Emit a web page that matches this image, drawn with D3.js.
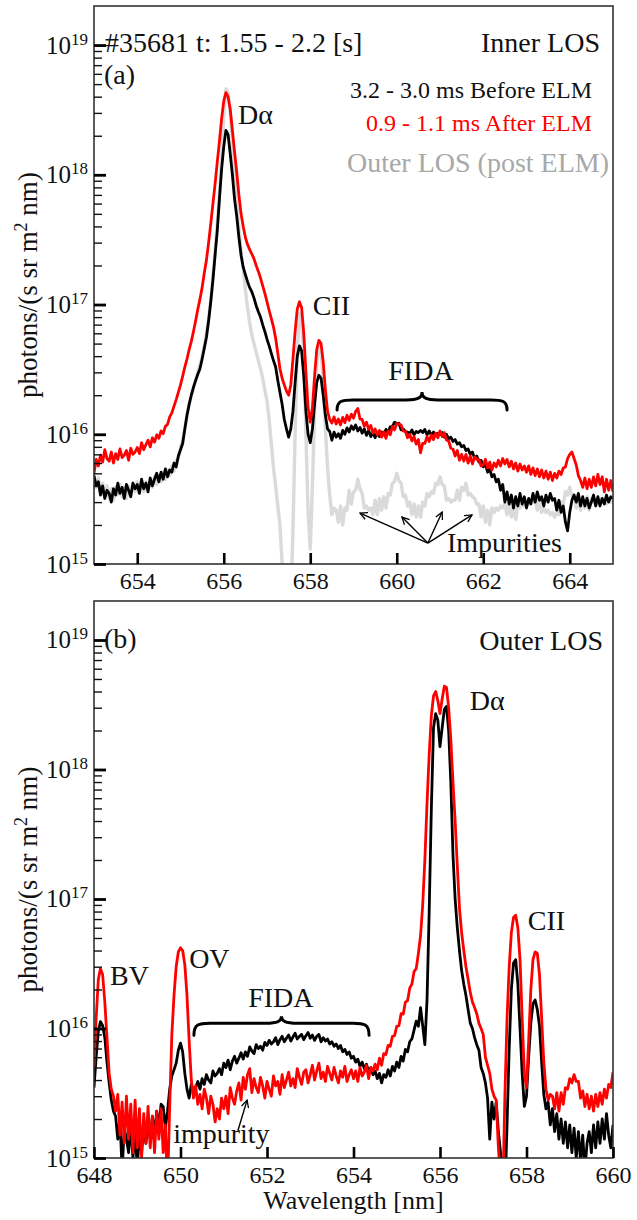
<!DOCTYPE html>
<html>
<head>
<meta charset="utf-8">
<script src="https://cdnjs.cloudflare.com/ajax/libs/d3/7.8.5/d3.min.js"></script>
<style>
body { margin: 0; background: #fff; }
svg text { font-family: "Liberation Serif", "Times New Roman", serif; }
</style>
</head>
<body>
<svg id="chart" width="637" height="1220"></svg>
<script>
// spectra are sampled every 0.05 nm, values in units of 1e15 photons/(s sr m^2 nm)
var stepNm = 0.05;
var startA = 653.0, startB = 648.0;

// panel (a) inner LOS, 653 - 665 nm
var blackA = [
    4.8, 4.0, 4.3, 3.4, 4.0, 3.2, 3.7, 3.5, 3.0, 3.8,
    3.4, 4.2, 3.5, 3.9, 3.2, 4.1, 3.7, 3.3, 4.2, 3.8,
    4.1, 3.5, 4.5, 3.8, 4.2, 3.6, 4.6, 4.0, 4.5, 5.0,
    4.3, 5.1, 4.5, 5.4, 4.7, 5.3, 5.1, 6.0, 5.6, 6.8,
    7.6, 8.5, 11, 14, 17, 20, 23, 26, 29, 32,
    38, 46, 56, 75, 105, 155, 240, 370, 650, 1100,
    1650, 2200, 2050, 1450, 1000, 650, 480, 330, 240, 194,
    170, 150, 135, 125, 112, 98, 88, 80, 70, 62,
    54, 48, 42, 37, 33, 26, 21, 17, 13, 11,
    9.5, 11, 15, 25, 40, 48, 44, 28, 15, 10,
    8.6, 11, 17, 25, 28.5, 27, 20, 14, 11, 10.5,
    9.0, 10.4, 9.5, 10.1, 9.3, 10.7, 10.0, 11.2, 10.4, 11.6,
    10.9, 11.8, 10.6, 11.3, 10.2, 11.0, 9.8, 10.7, 9.6, 10.3,
    9.4, 10.3, 9.6, 10.4, 9.9, 10.9, 10.4, 11.4, 11.5, 12.4,
    12.1, 12.2, 10.8, 11.0, 10.5, 10.4, 10.1, 10.8, 9.9, 10.5,
    10.3, 10.7, 10.3, 10.9, 9.9, 10.6, 9.8, 10.4, 9.8, 10.2,
    9.9, 10.3, 9.5, 10.0, 9.2, 9.5, 8.8, 9.1, 8.4, 8.6,
    8.0, 8.2, 7.5, 7.7, 7.0, 7.3, 6.5, 6.8, 6.1, 6.3,
    5.6, 5.9, 5.1, 5.4, 4.7, 4.9, 4.3, 4.5, 3.7, 4.1,
    3.0, 3.6, 2.9, 3.4, 2.7, 3.3, 2.8, 3.5, 2.9, 3.3,
    2.7, 3.2, 2.9, 3.5, 3.0, 3.6, 3.1, 3.3, 2.8, 3.4,
    3.0, 3.5, 3.1, 3.2, 2.6, 3.1, 2.5, 2.8, 2.1, 1.8,
    2.5, 3.1, 3.4, 3.0, 3.5, 2.8, 3.3, 2.8, 3.2, 2.7,
    3.0, 3.4, 2.8, 3.3, 2.8, 3.2, 2.9, 3.4, 3.0, 3.3,
    3.2
];
var redA = [
    5.0, 6.4, 5.7, 6.9, 6.1, 7.6, 6.5, 6.2, 7.3, 6.0,
    7.1, 6.4, 7.7, 6.6, 6.9, 7.5, 6.3, 7.8, 7.0, 7.3,
    7.9, 7.1, 8.6, 7.6, 8.3, 9.0, 8.0, 9.4, 8.7, 9.9,
    9.3, 10.6, 10.1, 11.5, 11.9, 13.6, 14.6, 16.5, 18.5, 21.0,
    24, 28, 33, 38, 45, 52, 62, 75, 92, 110,
    135, 175, 220, 300, 420, 600, 850, 1250, 1800, 2700,
    3700, 4300, 4000, 3200, 2200, 1500, 1050, 700, 500, 400,
    330, 290, 265, 245, 225, 200, 180, 160, 140, 122,
    105, 90, 78, 67, 55, 42, 32, 27, 24, 21.5,
    20, 24, 38, 62, 92, 105, 95, 60, 30, 16,
    12.4, 16, 28, 45, 53, 50, 36, 22, 15, 13,
    12.2, 13.6, 12.0, 13.1, 11.8, 13.5, 12.3, 14.0, 12.8, 14.3,
    13.3, 15.0, 15.8, 13.1, 13.0, 11.5, 12.4, 10.9, 11.7, 10.2,
    11.0, 9.9, 10.7, 9.5, 10.4, 9.3, 10.6, 9.9, 11.5, 10.8,
    12.1, 12.0, 11.8, 10.6, 10.5, 9.4, 10.0, 8.9, 9.6, 8.4,
    9.1, 7.2, 8.5, 8.5, 9.6, 8.8, 9.9, 9.1, 10.2, 9.4,
    10.6, 9.6, 10.3, 9.0, 8.9, 7.8, 7.7, 6.8, 7.5, 6.3,
    7.0, 6.2, 7.0, 6.0, 6.8, 5.9, 6.7, 6.4, 6.4, 5.7,
    5.8, 6.4, 5.5, 6.1, 5.3, 6.0, 5.6, 6.3, 5.7, 6.5,
    5.9, 6.4, 5.6, 6.2, 5.4, 6.0, 5.2, 5.9, 5.3, 5.7,
    5.1, 5.7, 4.9, 5.5, 4.8, 5.4, 4.7, 5.3, 4.6, 5.2,
    4.5, 5.1, 4.4, 5.0, 4.6, 5.2, 4.9, 5.5, 5.6, 6.5,
    7.0, 7.3, 6.5, 5.8, 4.8, 4.4, 3.9, 4.6, 3.8, 4.5,
    3.9, 4.7, 4.0, 4.9, 4.1, 4.7, 3.6, 4.5, 3.7, 4.4,
    3.6
];
var greyA = [
    4.5, 3.9, 4.6, 3.6, 4.2, 3.3, 4.0, 3.2, 3.8, 3.1,
    3.9, 3.4, 4.1, 3.3, 3.9, 3.2, 4.0, 3.5, 4.2, 3.6,
    4.3, 3.7, 4.4, 3.6, 4.3, 3.8, 4.5, 3.9, 4.7, 4.1,
    4.8, 4.3, 5.1, 4.5, 5.3, 4.8, 5.7, 5.2, 6.3, 6.5,
    7.8, 9.0, 11, 14, 17, 20, 23, 26, 30, 34,
    40, 48, 60, 78, 110, 165, 260, 420, 700, 1300,
    2800, 4600, 4300, 3000, 1800, 1000, 600, 400, 260, 190,
    130, 95, 72, 58, 50, 43, 37, 32, 27, 22,
    18, 13, 8.5, 5.5, 4.0, 2.8, 2.0, 1.0, 0.5, 0.9,
    0.3, 0.5, 1.8, 10, 45, 85, 78, 40, 10, 2.5,
    1.3, 4, 15, 35, 48, 44, 26, 11, 5.5, 3.4,
    2.4, 2.7, 2.6, 2.1, 2.8, 2.0, 2.7, 2.6, 3.7, 2.9,
    3.6, 3.7, 4.5, 3.8, 3.5, 2.7, 2.8, 2.6, 2.7, 2.4,
    3.1, 2.4, 3.2, 2.6, 3.3, 2.7, 3.5, 3.4, 4.2, 4.3,
    5.0, 4.4, 4.2, 3.3, 3.4, 2.8, 3.0, 2.4, 2.9, 2.3,
    2.8, 2.3, 3.0, 2.8, 3.5, 3.3, 3.6, 3.5, 4.2, 4.1,
    4.7, 4.1, 4.0, 3.1, 3.2, 3.0, 3.1, 3.1, 3.7, 3.1,
    3.9, 3.7, 4.2, 3.4, 3.5, 3.3, 3.2, 2.9, 2.9, 2.3,
    2.8, 2.1, 2.6, 2.0, 2.7, 2.5, 2.7, 2.6, 2.8, 2.7,
    2.9, 2.4, 3.0, 2.3, 2.8, 2.2, 2.9, 2.7, 2.9, 2.8,
    3.0, 2.9, 3.1, 3.0, 3.2, 2.6, 3.2, 2.5, 2.7, 2.5,
    2.6, 2.4, 2.5, 2.3, 2.5, 2.4, 3.0, 2.9, 3.6, 3.4,
    3.9, 3.3, 3.4, 2.7, 3.2, 2.6, 3.2, 2.7, 3.3, 2.6,
    3.2, 3.0, 3.1, 2.9, 3.2, 3.0, 3.2, 2.9, 3.1, 3.0,
    3.0
];

// panel (b) outer LOS, 648 - 660 nm
var blackB = [
    3.5, 6.0, 9.5, 11.3, 10.5, 8.5, 5.5, 3.8, 2.8, 2.3,
    2.1, 1.4, 2.0, 0.8, 1.7, 1.4, 1.1, 1.8, 1.0, 1.6,
    0.85, 1.5, 1.1, 1.8, 1.3, 1.9, 1.4, 2.1, 1.5, 2.3,
    1.7, 2.6, 2.5, 1.7, 2.3, 3.4, 4.3, 4.8, 5.4, 6.8,
    7.7, 6.6, 4.5, 3.4, 2.9, 3.7, 3.3, 3.5, 3.9, 3.4,
    4.1, 3.7, 4.4, 4.0, 3.8, 4.7, 4.3, 4.5, 4.9, 4.4,
    5.4, 5.0, 5.7, 4.8, 5.6, 6.1, 5.4, 5.9, 6.5, 5.8,
    6.6, 6.1, 7.2, 6.7, 6.4, 7.5, 7.0, 7.3, 6.8, 7.8,
    7.4, 8.1, 7.6, 7.9, 8.5, 7.5, 8.2, 8.7, 7.9, 8.4,
    8.9, 8.0, 8.6, 9.2, 8.3, 8.7, 9.0, 8.2, 8.8, 9.3,
    8.4, 8.9, 8.1, 8.7, 9.0, 7.9, 8.5, 8.0, 8.3, 7.6,
    7.9, 7.3, 7.6, 7.0, 7.4, 6.6, 6.9, 6.3, 6.6, 5.9,
    6.1, 5.5, 5.8, 5.1, 5.5, 4.9, 5.3, 4.6, 5.0, 4.4,
    4.7, 4.1, 4.5, 3.8, 4.4, 4.2, 4.8, 4.3, 5.1, 4.7,
    5.5, 5.0, 6.1, 5.6, 6.9, 6.6, 7.9, 8.3, 9.7, 11.4,
    10.4, 14.5, 10.5, 7.5, 16.6, 80, 500, 2100, 2700, 2400,
    1500, 2100, 2900, 3070, 2000, 800, 220, 100, 60, 40,
    28, 22, 18, 14, 11, 10, 8.5, 7.5, 6.8, 5.0,
    4.5, 3.8, 2.9, 1.4, 2.7, 2.0, 2.7, 1.6, 1.1, 0.7,
    0.5, 1.8, 7, 20, 32, 34, 22, 10, 4.5, 2.5,
    3.0, 6, 11, 15.5, 16.6, 14, 10.5, 5.5, 3.1, 2.4,
    2.7, 1.8, 2.4, 1.6, 2.2, 1.4, 2.0, 1.3, 1.9, 1.2,
    1.8, 1.1, 1.7, 1.0, 1.6, 0.95, 1.5, 0.8, 1.3, 1.6,
    1.1, 1.8, 1.2, 1.9, 1.3, 2.0, 1.4, 2.2, 1.5, 1.2,
    1.8
];
var redB = [
    5.0, 12, 24, 29, 26, 16, 8.5, 4.5, 3.4, 3.0,
    2.3, 3.1, 1.5, 2.7, 1.3, 3.0, 1.4, 2.6, 1.1, 2.8,
    1.2, 2.4, 1.0, 2.2, 1.3, 2.5, 1.2, 2.1, 1.1, 2.3,
    1.4, 2.4, 1.1, 1.8, 0.6, 2.5, 9, 18, 30, 39,
    42, 40, 31, 18, 8, 4, 2.9, 3.6, 2.6, 3.1,
    2.4, 3.4, 2.9, 2.2, 3.0, 2.6, 1.9, 2.4, 2.0, 2.9,
    2.4, 3.0, 2.2, 3.5, 2.9, 2.6, 3.3, 3.8, 2.8, 4.2,
    3.4, 4.4, 4.9, 3.2, 4.1, 3.5, 3.2, 4.2, 3.6, 2.9,
    3.9, 3.4, 3.0, 4.3, 3.6, 3.9, 3.1, 4.4, 3.5, 4.0,
    4.6, 3.6, 4.1, 3.5, 4.9, 4.2, 3.7, 4.6, 4.8, 3.8,
    4.4, 5.2, 4.0, 4.7, 5.4, 4.1, 4.6, 3.9, 5.1, 4.5,
    4.0, 5.0, 4.3, 3.8, 4.7, 4.2, 5.1, 3.9, 4.4, 4.8,
    4.1, 4.7, 3.9, 5.0, 4.3, 4.6, 5.2, 4.1, 5.0, 4.7,
    5.3, 4.8, 5.9, 5.2, 6.4, 6.3, 7.4, 7.3, 8.7, 8.8,
    10.4, 10.5, 13.0, 12.9, 16.0, 16.4, 20.5, 22, 27.5, 29,
    38, 52, 90, 200, 550, 1300, 2600, 3700, 4000, 3400,
    2700, 3500, 4400, 4300, 3000, 1700, 800, 400, 180, 85,
    55, 40, 30, 24, 19, 16, 14.5, 13, 11, 10,
    9.0, 6.0, 5.2, 4.5, 3.4, 3.0, 2.8, 1.2, 0.7, 0.5,
    3, 12, 30, 55, 72, 75, 60, 34, 12, 4.5,
    3.5, 8, 20, 34, 39, 38, 26, 12, 5.5, 3.4,
    2.8, 3.1, 3.0, 2.4, 3.2, 2.3, 3.2, 2.6, 3.5, 3.4,
    4.1, 3.8, 4.4, 3.9, 3.9, 2.9, 3.3, 2.5, 3.1, 2.4,
    3.0, 2.3, 3.1, 2.5, 3.2, 2.6, 3.4, 2.9, 3.7, 3.5,
    4.6
];

var xTicksA = [654, 656, 658, 660, 662, 664];
var xTicksB = [648, 650, 652, 654, 656, 658, 660];
var yDecades = [15, 16, 17, 18, 19];
var yMinorSteps = [2, 3, 4, 5, 6, 7, 8, 9];

var svg = d3.select("#chart");
var plotLeft = 94, plotRight = 613;

var defs = svg.append("defs");
defs.append("marker")
    .attr("id", "arrow")
    .attr("viewBox", "0 0 10 10")
    .attr("refX", 9).attr("refY", 5)
    .attr("markerWidth", 9).attr("markerHeight", 9)
    .attr("markerUnits", "userSpaceOnUse")
    .attr("orient", "auto")
    .append("path")
    .attr("d", "M1,1 L9,5 L1,9")
    .attr("fill", "none")
    .attr("stroke", "#000")
    .attr("stroke-width", 1.4);

function bracePath(xl, xr, yFlat, hookDown, tipUp) {
    var xm = (xl + xr) / 2, q = 16;
    var p = d3.path();
    p.moveTo(xl, yFlat + hookDown);
    p.bezierCurveTo(xl, yFlat + 1, xl + 5, yFlat, xl + q, yFlat);
    p.lineTo(xm - q, yFlat);
    p.bezierCurveTo(xm - 4, yFlat, xm, yFlat - 2, xm, yFlat - tipUp);
    p.bezierCurveTo(xm, yFlat - 2, xm + 4, yFlat, xm + q, yFlat);
    p.lineTo(xr - q, yFlat);
    p.bezierCurveTo(xr - 5, yFlat, xr, yFlat + 1, xr, yFlat + hookDown);
    return p.toString();
}

function drawPanel(p) {
    var x = d3.scaleLinear().domain([p.x0, p.x1]).range([plotLeft, plotRight]);
    var y = d3.scaleLog().domain([1e15, 2e19]).range([p.bottom, p.top]);
    var g = svg.append("g");

    defs.append("clipPath").attr("id", "clip-" + p.id)
        .append("rect")
        .attr("x", plotLeft).attr("y", p.top)
        .attr("width", plotRight - plotLeft).attr("height", p.bottom - p.top);

    var lines = g.append("g").attr("clip-path", "url(#clip-" + p.id + ")");
    p.series.forEach(function(s) {
        var line = d3.line()
            .x(function(d, i) { return x(p.start + i * stepNm); })
            .y(function(d) { return y(Math.max(d, 0.05) * 1e15); });
        lines.append("path")
            .datum(s.values)
            .attr("fill", "none")
            .attr("stroke", s.color)
            .attr("stroke-width", s.width)
            .attr("stroke-linejoin", "round")
            .attr("d", line);
    });

    // frame
    g.append("rect")
        .attr("x", plotLeft).attr("y", p.top)
        .attr("width", plotRight - plotLeft).attr("height", p.bottom - p.top)
        .attr("fill", "none").attr("stroke", "#333").attr("stroke-width", 1.6);

    // x axis, ticks pointing in
    var xAxis = g.append("g")
        .attr("transform", "translate(0," + p.bottom + ")")
        .call(d3.axisBottom(x).tickValues(p.xTicks).tickSize(-11).tickSizeOuter(0).tickPadding(8));
    xAxis.select(".domain").remove();
    xAxis.selectAll("line").attr("stroke", "#000").attr("stroke-width", 2.6);
    xAxis.selectAll("text")
        .attr("font-size", 24).attr("fill", "#111");

    // y axis, minor and major ticks
    var minors = [];
    yDecades.slice(0, -1).forEach(function(e) {
        yMinorSteps.forEach(function(k) { minors.push(k * Math.pow(10, e)); });
    });
    var yMinor = g.append("g")
        .attr("transform", "translate(" + plotLeft + ",0)")
        .call(d3.axisLeft(y).tickValues(minors).tickSize(-8).tickSizeOuter(0).tickFormat(""));
    yMinor.select(".domain").remove();
    yMinor.selectAll("line").attr("stroke", "#111").attr("stroke-width", 1.4);

    var majors = yDecades.map(function(e) { return Math.pow(10, e); });
    var yMajor = g.append("g")
        .attr("transform", "translate(" + plotLeft + ",0)")
        .call(d3.axisLeft(y).tickValues(majors).tickSize(-12).tickSizeOuter(0).tickFormat(""));
    yMajor.select(".domain").remove();
    yMajor.selectAll("line").attr("stroke", "#000").attr("stroke-width", 2.8);

    var yLab = g.append("g").selectAll("text")
        .data(yDecades)
        .enter().append("text")
        .attr("x", plotLeft - 6)
        .attr("y", function(e) { return y(Math.pow(10, e)) + 8.5; })
        .attr("text-anchor", "end")
        .attr("font-size", 25)
        .attr("fill", "#111");
    yLab.append("tspan").text("10");
    yLab.append("tspan")
        .attr("font-size", 17)
        .attr("dy", -9)
        .text(function(e) { return e; });

    // y label
    var cy = (p.top + p.bottom) / 2;
    var yl = g.append("text")
        .attr("transform", "translate(37," + cy + ") rotate(-90)")
        .attr("text-anchor", "middle")
        .attr("font-size", 27)
        .attr("fill", "#111");
    yl.append("tspan").text("photons/(s sr m");
    yl.append("tspan").attr("font-size", 18).attr("dy", -10).text("2");
    yl.append("tspan").attr("dy", 10).text(" nm)");

    // brace over the FIDA region
    g.append("path")
        .attr("d", bracePath(x(p.brace.from), x(p.brace.to), y(p.brace.level * 1e15), p.brace.hook, p.brace.tip))
        .attr("fill", "none").attr("stroke", "#000").attr("stroke-width", 3)
        .attr("stroke-linecap", "round");

    // line labels placed in data coordinates
    g.append("g").selectAll("text")
        .data(p.labels)
        .enter().append("text")
        .attr("x", function(d) { return x(d.wl); })
        .attr("y", function(d) { return y(d.val * 1e15); })
        .attr("text-anchor", function(d) { return d.anchor || "start"; })
        .attr("font-size", 28)
        .attr("fill", "#111")
        .text(function(d) { return d.t; });

    // arrows
    g.append("g").selectAll("line")
        .data(p.arrows.tips)
        .enter().append("line")
        .attr("x1", x(p.arrows.from[0]))
        .attr("y1", y(p.arrows.from[1] * 1e15))
        .attr("x2", function(d) { return x(d[0]); })
        .attr("y2", function(d) { return y(d[1] * 1e15); })
        .attr("stroke", "#000").attr("stroke-width", 1.4)
        .attr("marker-end", "url(#arrow)");

    // corner texts in panel pixels
    g.append("g").selectAll("text")
        .data(p.corner)
        .enter().append("text")
        .attr("x", function(d) { return d.x; })
        .attr("y", function(d) { return p.top + d.dy; })
        .attr("text-anchor", function(d) { return d.anchor; })
        .attr("font-size", function(d) { return d.size; })
        .attr("fill", function(d) { return d.color; })
        .text(function(d) { return d.t; });
}

drawPanel({
    id: "a", top: 6, bottom: 564, x0: 653, x1: 665, start: startA, xTicks: xTicksA,
    series: [
        {values: greyA, color: "#dadada", width: 3.4},
        {values: blackA, color: "#000", width: 2.8},
        {values: redA, color: "#ff0000", width: 2.8}
    ],
    brace: {from: 658.62, to: 662.55, level: 18.4, hook: 10, tip: 8},
    labels: [
        {t: "D\u03b1", wl: 656.33, val: 2460},
        {t: "CII", wl: 658.06, val: 83},
        {t: "FIDA", wl: 660.56, val: 26.2, anchor: "middle"},
        {t: "Impurities", wl: 661.16, val: 1.24}
    ],
    arrows: {from: [660.72, 1.45], tips: [[659.15, 2.47], [660.12, 2.30], [661.05, 2.52], [661.74, 2.39]]},
    corner: [
        {t: "#35681 t: 1.55 - 2.2 [s]", x: 105, dy: 46, anchor: "start", size: 28, color: "#111"},
        {t: "(a)", x: 104, dy: 78, anchor: "start", size: 28, color: "#111"},
        {t: "Inner LOS", x: 600, dy: 46, anchor: "end", size: 28, color: "#111"},
        {t: "3.2 - 3.0 ms Before ELM", x: 592, dy: 92, anchor: "end", size: 24, color: "#111"},
        {t: "0.9 - 1.1 ms After ELM", x: 592, dy: 125, anchor: "end", size: 24, color: "#ff0000"},
        {t: "Outer LOS (post ELM)", x: 609, dy: 166, anchor: "end", size: 28, color: "#a8a8a8"}
    ]
});

drawPanel({
    id: "b", top: 601, bottom: 1158, x0: 648, x1: 660, start: startB, xTicks: xTicksB,
    series: [
        {values: blackB, color: "#000", width: 2.8},
        {values: redB, color: "#ff0000", width: 2.8}
    ],
    brace: {from: 650.31, to: 654.36, level: 11.0, hook: 12, tip: 7},
    labels: [
        {t: "D\u03b1", wl: 656.69, val: 2870},
        {t: "CII", wl: 658.03, val: 57.6},
        {t: "OV", wl: 650.2, val: 29.3},
        {t: "BV", wl: 648.37, val: 21.7},
        {t: "FIDA", wl: 652.32, val: 14.7, anchor: "middle"},
        {t: "impurity", wl: 649.83, val: 1.3}
    ],
    arrows: {from: [651.33, 1.64], tips: [[651.54, 2.8]]},
    corner: [
        {t: "(b)", x: 104, dy: 47, anchor: "start", size: 28, color: "#111"},
        {t: "Outer LOS", x: 603, dy: 49, anchor: "end", size: 28, color: "#111"}
    ]
});

svg.append("text")
    .attr("x", (plotLeft + plotRight) / 2)
    .attr("y", 1209)
    .attr("text-anchor", "middle")
    .attr("font-size", 26)
    .attr("fill", "#111")
    .text("Wavelength [nm]");
</script>
</body>
</html>
